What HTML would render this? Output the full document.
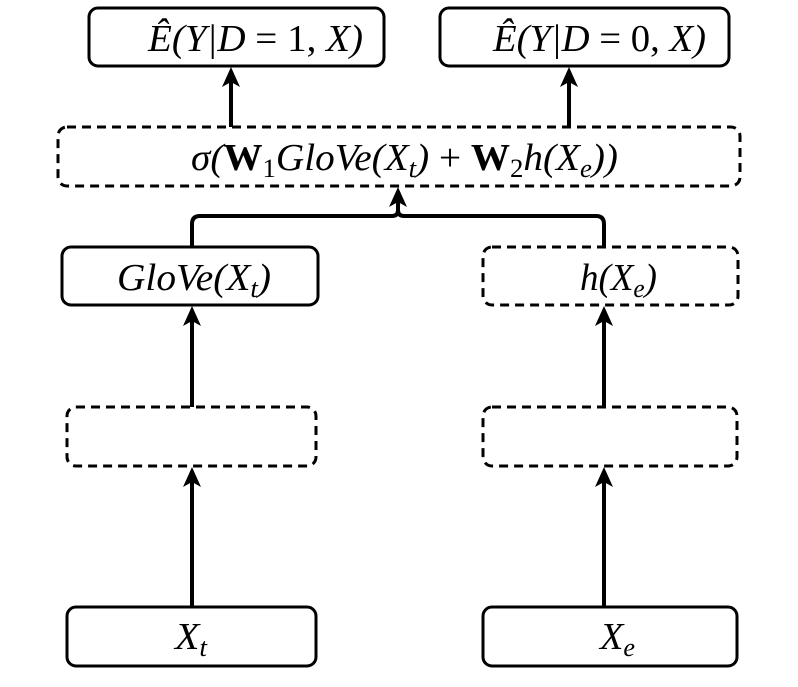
<!DOCTYPE html>
<html><head><meta charset="utf-8"><style>
html,body{margin:0;padding:0;background:#fff;}
svg{display:block;}
text{font-family:"Liberation Serif",serif;font-style:italic;font-size:38px;fill:#000;}
.b{font-style:normal;font-weight:bold;}
.n{font-style:normal;}
</style></head><body>
<svg width="798" height="687" viewBox="0 0 798 687" xmlns="http://www.w3.org/2000/svg">
<g fill="none" stroke="#000" stroke-width="3">
<rect x="89" y="8" width="295" height="58" rx="9"/>
<rect x="440" y="8" width="289" height="58" rx="9"/>
<rect x="58" y="127" width="682" height="59" rx="9" stroke-dasharray="9,6"/>
<rect x="62" y="247" width="256" height="58" rx="9"/>
<rect x="483" y="247" width="255" height="58" rx="9" stroke-dasharray="9,6"/>
<rect x="67" y="407" width="249" height="59" rx="9" stroke-dasharray="9,6"/>
<rect x="483" y="407" width="254" height="59" rx="9" stroke-dasharray="9,6"/>
<rect x="67" y="607" width="249" height="59" rx="9"/>
<rect x="483" y="607" width="254" height="59" rx="9"/>
</g>
<g fill="none" stroke="#000" stroke-width="4">
<line x1="231" y1="127" x2="231" y2="80"/>
<line x1="569" y1="127" x2="569" y2="80"/>
<path d="M192 247 V224 Q192 216 200 216 H392 Q398 216 398 210 Q398 216 404 216 H596 Q604 216 604 224 V247"/>
<line x1="398" y1="210" x2="398" y2="200"/>
<line x1="192" y1="407" x2="192" y2="320"/>
<line x1="604" y1="407" x2="604" y2="320"/>
<line x1="192" y1="607" x2="192" y2="480"/>
<line x1="604" y1="607" x2="604" y2="480"/>
</g>
<g fill="#000">
<path d="M231 67 L222 87 L231 82 L240 87 Z"/>
<path d="M569 67 L560 87 L569 82 L578 87 Z"/>
<path d="M398 187 L389 207 L398 202 L407 207 Z"/>
<path d="M192 306 L183 326 L192 321 L201 326 Z"/>
<path d="M604 306 L595 326 L604 321 L613 326 Z"/>
<path d="M192 467 L183 487 L192 482 L201 487 Z"/>
<path d="M604 467 L595 487 L604 482 L613 487 Z"/>
</g>
<text x="148" y="51" textLength="215" lengthAdjust="spacingAndGlyphs">Ê(Y|D <tspan class="n">= 1,</tspan> X)</text>
<text x="493" y="51" textLength="213" lengthAdjust="spacingAndGlyphs">Ê(Y|D <tspan class="n">= 0,</tspan> X)</text>
<text x="191" y="170" textLength="427" lengthAdjust="spacingAndGlyphs">σ(<tspan class="b">W</tspan><tspan class="n" font-size="26" dy="7">1</tspan><tspan dy="-7">GloVe(X</tspan><tspan font-size="26" dy="7">t</tspan><tspan dy="-7">) </tspan><tspan class="n">+ </tspan><tspan class="b">W</tspan><tspan class="n" font-size="26" dy="7">2</tspan><tspan dy="-7">h(X</tspan><tspan font-size="26" dy="7">e</tspan><tspan dy="-7">))</tspan></text>
<text x="117" y="290" textLength="154" lengthAdjust="spacingAndGlyphs">GloVe(X<tspan font-size="26" dy="7">t</tspan><tspan dy="-7">)</tspan></text>
<text x="580" y="290" textLength="77" lengthAdjust="spacingAndGlyphs">h(X<tspan font-size="26" dy="7">e</tspan><tspan dy="-7">)</tspan></text>
<text x="175" y="649" textLength="32" lengthAdjust="spacingAndGlyphs">X<tspan font-size="26" dy="7">t</tspan></text>
<text x="600" y="649" textLength="35" lengthAdjust="spacingAndGlyphs">X<tspan font-size="26" dy="7">e</tspan></text>
</svg>
</body></html>
